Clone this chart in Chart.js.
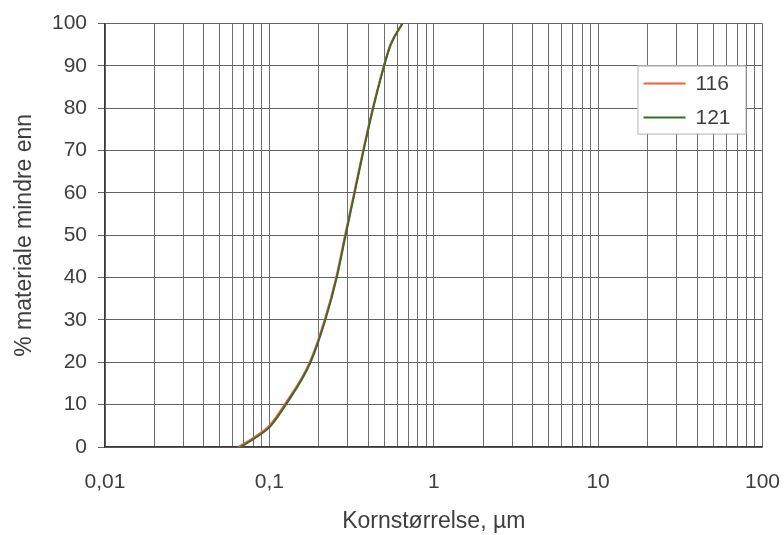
<!DOCTYPE html>
<html>
<head>
<meta charset="utf-8">
<script src="https://cdn.jsdelivr.net/npm/chart.js@4/dist/chart.umd.min.js"></script>
<style>
  html, body { margin: 0; padding: 0; background: #ffffff; }
  #wrap { width: 784px; height: 535px; }
</style>
</head>
<body>
<div id="wrap"><canvas id="c" width="784" height="535"></canvas></div>
<script>
// ---- data ----
const seriesNames = ['116', '121'];
const size116 = [0.065, 0.079, 0.100, 0.124, 0.176, 0.217, 0.255, 0.289, 0.328, 0.372, 0.426, 0.497, 0.545, 0.643];
const pct116  = [0, 2, 5, 10, 20, 30, 40, 50, 60, 70, 80, 90, 95, 100];
const size121 = [0.067, 0.081, 0.102, 0.126, 0.178, 0.219, 0.257, 0.291, 0.330, 0.374, 0.428, 0.499, 0.547, 0.645];
const pct121  = [0, 2, 5, 10, 20, 30, 40, 50, 60, 70, 80, 90, 95, 100];
const xDecades = [0.01, 0.1, 1, 10, 100];
const xTickLabels = ['0,01', '0,1', '1', '10', '100'];
const yTicks = [0, 10, 20, 30, 40, 50, 60, 70, 80, 90, 100];
const xTitle = 'Kornstørrelse, µm';
const yTitle = '% materiale mindre enn';

const colors = ['#ea6040', '#3d6a2c'];
const textColor = '#3e3e3e';
const FONT = '"Liberation Sans", Arial, sans-serif';

function pts(xs, ys) { return xs.map((x, i) => ({ x: x, y: ys[i] })); }

const legendInArea = {
  id: 'legendInArea',
  afterDraw(chart) {
    const ctx = chart.ctx;
    const a = chart.chartArea;
    const bw = 108, bh = 68;
    const bx = a.right - 17 - bw, by = a.top + 42;
    ctx.save();
    ctx.fillStyle = '#ffffff';
    ctx.fillRect(bx, by, bw, bh);
    ctx.strokeStyle = '#b5b5b5';
    ctx.lineWidth = 1;
    ctx.strokeRect(bx + 0.5, by + 0.5, bw, bh);
    chart.data.datasets.forEach((ds, i) => {
      const y = by + 18 + i * 34;
      ctx.strokeStyle = ds.borderColor;
      ctx.lineWidth = 2;
      ctx.beginPath();
      ctx.moveTo(bx + 6, y);
      ctx.lineTo(bx + 48, y);
      ctx.stroke();
      ctx.fillStyle = textColor;
      ctx.font = '21px ' + FONT;
      ctx.textBaseline = 'middle';
      ctx.textAlign = 'left';
      ctx.fillText(ds.label, bx + 58, y + 1);
    });
    ctx.restore();
  }
};

new Chart(document.getElementById('c'), {
  type: 'line',
  data: {
    datasets: [
      { label: seriesNames[0], data: pts(size116, pct116), borderColor: colors[0], backgroundColor: colors[0],
        borderWidth: 2.2, pointRadius: 0, cubicInterpolationMode: 'monotone', fill: false, order: 2 },
      { label: seriesNames[1], data: pts(size121, pct121), borderColor: colors[1], backgroundColor: colors[1],
        borderWidth: 2, pointRadius: 0, cubicInterpolationMode: 'monotone', fill: false, order: 1 }
    ]
  },
  options: {
    responsive: false,
    animation: false,
    devicePixelRatio: 1,
    layout: { padding: { top: 23, right: 3, left: 0, bottom: 0 } },
    plugins: {
      legend: { display: false },
      tooltip: { enabled: false }
    },
    scales: {
      x: {
        type: 'logarithmic',
        min: xDecades[0],
        max: xDecades[xDecades.length - 1],
        afterBuildTicks(scale) {
          const t = [];
          for (let d = 0; d < xDecades.length - 1; d++) {
            for (let k = 1; k <= 9; k++) t.push({ value: xDecades[d] * k });
          }
          t.push({ value: xDecades[xDecades.length - 1] });
          scale.ticks = t;
        },
        afterFit(scale) { scale.height = 88; },
        ticks: {
          autoSkip: false,
          maxRotation: 0,
          padding: 4,
          color: textColor,
          font: { family: FONT, size: 21 },
          callback(value) {
            const i = xDecades.findIndex(d => Math.abs(d - value) / d < 1e-6);
            return i >= 0 ? xTickLabels[i] : '';
          }
        },
        grid: { color: '#6e6e6e', lineWidth: 1, drawTicks: true, tickLength: 19, tickColor: 'rgba(0,0,0,0)' },
        border: { color: '#3a3a3a', width: 1.3 },
        title: { display: true, text: xTitle, color: textColor, font: { family: FONT, size: 23 }, padding: { top: 2, bottom: 0 } }
      },
      y: {
        type: 'linear',
        min: 0,
        max: 100,
        afterBuildTicks(scale) { scale.ticks = yTicks.map(v => ({ value: v })); },
        afterFit(scale) { scale.width = 105; },
        ticks: {
          padding: 11,
          color: textColor,
          font: { family: FONT, size: 21 }
        },
        grid: { color: '#636363', lineWidth: 1, tickLength: 7 },
        border: { color: '#3a3a3a', width: 1.3 },
        title: { display: true, text: yTitle, color: textColor, font: { family: FONT, size: 23 }, padding: { top: 11, bottom: 0 } }
      }
    }
  },
  plugins: [legendInArea]
});
</script>
</body>
</html>
